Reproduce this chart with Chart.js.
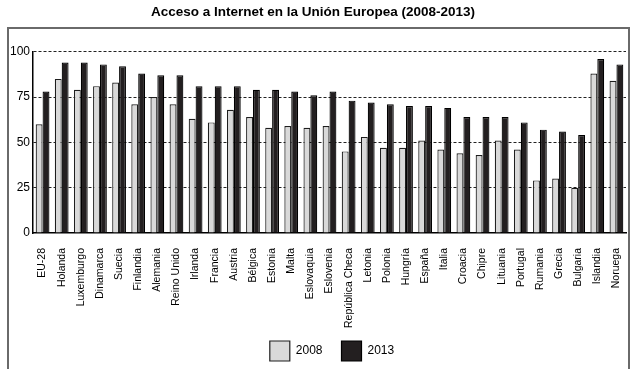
<!DOCTYPE html>
<html>
<head>
<meta charset="utf-8">
<script src="https://cdn.jsdelivr.net/npm/chart.js@4"></script>
<style>
  html, body { margin: 0; padding: 0; background: #fff; }
  #wrap { width: 640px; height: 369px; }
</style>
</head>
<body>
<div id="wrap"><canvas id="chart" width="640" height="369"></canvas></div>
<script>
// data
const countries = ['EU-28','Holanda','Luxemburgo','Dinamarca','Suecia','Finlandia','Alemania','Reino Unido','Irlanda','Francia','Austria','Bélgica','Estonia','Malta','Eslovaquia','Eslovenia','República Checa','Letonia','Polonia','Hungría','España','Italia','Croacia','Chipre','Lituania','Portugal','Rumania','Grecia','Bulgaria','Islandia','Noruega'];
const acceso2008 = [60,85,79,81,83,71,75,71,63,61,68,64,58,59,58,59,45,53,47,47,51,46,44,43,51,46,29,30,25,88,84];
const acceso2013 = [78,94,94,93,92,88,87,87,81,81,81,79,79,78,76,78,73,72,71,70,70,69,64,64,64,61,57,56,54,96,93];
const yTicks = [0, 25, 50, 75, 100];

const FONT = "'Liberation Sans', Arial, sans-serif";

// frame round the plot, and move the legend where the original has it
const framePlugin = {
    id: 'frame',
    afterLayout(chart) {
        const lg = chart.legend;
        if (lg) { lg.left += 19; lg.right += 19; lg.top -= 18; lg.bottom -= 18; }
    },
    beforeDraw(chart) {
        const ctx = chart.ctx;
        ctx.save();
        ctx.strokeStyle = '#6a6a6a';
        ctx.lineWidth = 2;
        ctx.strokeRect(8, 28, 621, 400);
        ctx.restore();
    }
};

new Chart(document.getElementById('chart'), {
    type: 'bar',
    data: {
        labels: countries,
        datasets: [
            {
                label: '2008',
                data: acceso2008,
                backgroundColor: '#d9d9d9',
                borderColor: '#1e1e1e',
                borderWidth: 1.2,
                borderSkipped: 'bottom',
                categoryPercentage: 0.72,
                barPercentage: 1.0
            },
            {
                label: '2013',
                data: acceso2013,
                backgroundColor: '#231f20',
                borderColor: '#000',
                borderWidth: 1.2,
                borderSkipped: 'bottom',
                categoryPercentage: 0.72,
                barPercentage: 1.0
            }
        ]
    },
    options: {
        responsive: false,
        animation: false,
        layout: { padding: { left: 0, right: 14, top: 0, bottom: -20 } },
        plugins: {
            title: {
                display: true,
                text: 'Acceso a Internet en la Unión Europea (2008-2013)',
                color: '#000',
                font: { family: FONT, size: 13.5, weight: 'bold' },
                padding: { top: 4, bottom: 31.5 }
            },
            legend: {
                position: 'bottom',
                labels: {
                    color: '#000',
                    font: { family: FONT, size: 12 },
                    boxWidth: 20,
                    boxHeight: 20,
                    padding: 19
                }
            },
            tooltip: { enabled: false }
        },
        scales: {
            x: {
                grid: { display: false },
                border: { display: true, color: '#000', width: 1.5 },
                ticks: {
                    color: '#000',
                    font: { family: FONT, size: 10.5 },
                    minRotation: 90,
                    maxRotation: 90,
                    autoSkip: false,
                    padding: 7
                },
                afterFit(scale) { scale.height = 107; }
            },
            y: {
                min: 0,
                max: 100,
                afterBuildTicks(scale) { scale.ticks = yTicks.map(v => ({ value: v })); },
                grid: {
                    color: c => (c.tick && c.tick.value === 0) ? 'rgba(0,0,0,0)' : '#222',
                    lineWidth: 1,
                    drawTicks: false
                },
                border: { display: true, color: '#000', width: 1.5, dash: [3, 2] },
                ticks: {
                    color: '#000',
                    font: { family: FONT, size: 12 },
                    padding: 3
                },
                afterFit(scale) { scale.width = 33; }
            }
        }
    },
    plugins: [framePlugin]
});
</script>
</body>
</html>
